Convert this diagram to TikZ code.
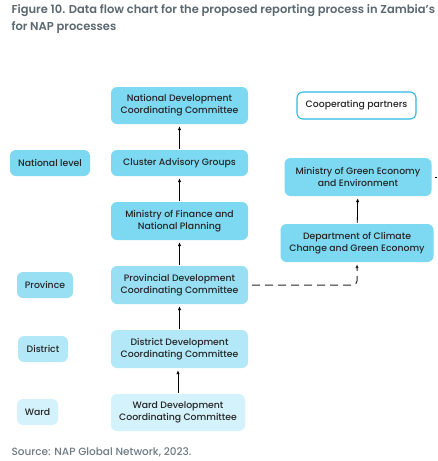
\documentclass[tikz,border=0pt]{standalone}
\usepackage{fontspec}
\setmainfont{Poppins}[UprightFont=* Medium,BoldFont=* SemiBold]
\usetikzlibrary{positioning}
\usetikzlibrary{arrows.meta}
\definecolor{natblue}{HTML}{7DD8F2}
\definecolor{provblue}{HTML}{98DFF4}
\definecolor{distblue}{HTML}{B2E8F7}
\definecolor{wardblue}{HTML}{D4F2FB}
\definecolor{edgeblue}{HTML}{2BB8E4}
\definecolor{titlegray}{HTML}{5C6870}
\definecolor{srcgray}{HTML}{6E7A82}
\tikzset{
  box/.style={rounded corners=6pt,align=center,font=\fontsize{9.3}{12}\selectfont,inner sep=0pt,text=black!85},
  up/.style={-{Latex[length=4pt,width=3.5pt]},thick,shorten >=2pt,shorten <=1pt}
}

\begin{document}
\begin{tikzpicture}[x=1pt,y=-1pt]
\useasboundingbox (0,0) rectangle (437,461);
\node[font=\bfseries\fontsize{11.5}{14}\selectfont,text=titlegray,anchor=west] (T1) at (8,11) {Figure 10. Data flow chart for the proposed reporting process in Zambia's};
\node[font=\bfseries\fontsize{11.5}{14}\selectfont,text=titlegray,anchor=west] (T2) at (8,28) {for NAP processes};

\node[box,fill=natblue,minimum width=137pt,minimum height=37pt] (ndcc) at (179.5,105.5) {National Development\\Coordinating Committee};
\node[box,fill=white,draw=edgeblue,line width=1.1pt,minimum width=119pt,minimum height=27pt] (coop) at (356.5,105.5) {Cooperating partners};
\node[box,fill=natblue,minimum width=80pt,minimum height=26pt] (natlevel) at (50,163) {National level};
\node[box,fill=natblue,minimum width=137pt,minimum height=26pt] (cag) at (179.5,163) {Cluster Advisory Groups};
\node[box,fill=natblue,minimum width=147pt,minimum height=38pt] (mogee) at (358,177) {Ministry of Green Economy\\and Environment};
\node[box,fill=natblue,minimum width=137pt,minimum height=38pt] (mofnp) at (179.5,221) {Ministry of Finance and\\National Planning};
\node[box,fill=natblue,minimum width=153pt,minimum height=38pt] (dccge) at (357,243) {Department of Climate\\Change and Green Economy};
\node[box,fill=provblue,minimum width=56pt,minimum height=26pt] (prov) at (45,285) {Province};
\node[box,fill=provblue,minimum width=137pt,minimum height=38pt] (pdcc) at (179.5,285) {Provincial Development\\Coordinating Committee};
\node[box,fill=distblue,minimum width=50pt,minimum height=26pt] (dist) at (43,349) {District};
\node[box,fill=distblue,minimum width=137pt,minimum height=38pt] (ddcc) at (179.5,349) {District Development\\Coordinating Committee};
\node[box,fill=wardblue,minimum width=41pt,minimum height=26pt] (ward) at (37.5,412) {Ward};
\node[box,fill=wardblue,minimum width=134pt,minimum height=37pt] (wdcc) at (178,412.5) {Ward Development\\Coordinating Committee};
\node[font=\fontsize{10.5}{12}\selectfont,text=srcgray,anchor=west] (src) at (8,452) {Source: NAP Global Network, 2023.};

\draw[up] (wdcc.north) -- (wdcc.north |- ddcc.south);
\draw[up] (ddcc) -- (pdcc);
\draw[up] (pdcc) -- (mofnp);
\draw[up] (mofnp) -- (cag);
\draw[up] (cag) -- (ndcc);
\draw[up] (dccge) -- (mogee);
\draw[up,black!85,line width=1pt,dashed,dash pattern=on 8pt off 5pt,rounded corners=4pt,shorten <=4pt] (pdcc.east) -| (dccge.south);
\coordinate (rim) at (437,177);
\draw[thick,shorten <=3pt] (mogee.east) -- (rim);
\end{tikzpicture}
\end{document}
